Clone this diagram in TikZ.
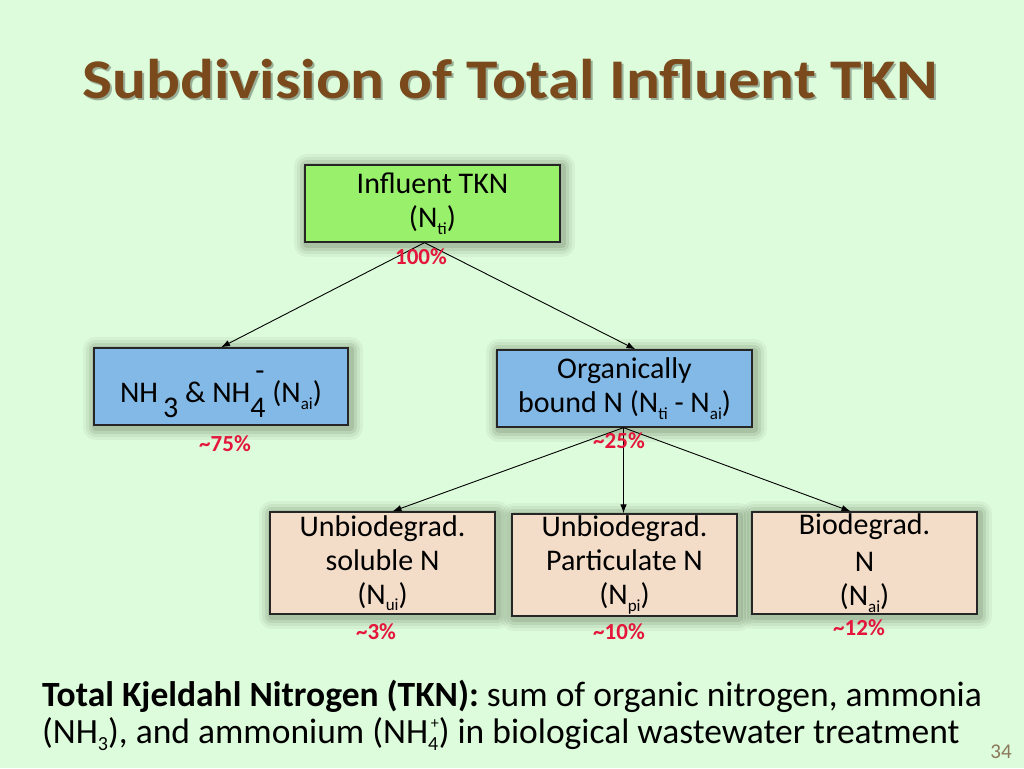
\documentclass[tikz,border=0pt]{standalone}
\usepackage{fontspec}
\setmainfont{Carlito}
\usetikzlibrary{arrows.meta,calc}
\definecolor{bgc}{RGB}{221,252,219}
\definecolor{titlec}{RGB}{122,74,28}
\definecolor{greenbox}{RGB}{153,240,106}
\definecolor{bluebox}{RGB}{131,185,230}
\definecolor{peachbox}{RGB}{243,220,200}
\definecolor{pctred}{RGB}{228,22,60}
\definecolor{pagec}{RGB}{140,120,90}
\definecolor{glowc}{RGB}{50,60,40}
\newcommand\lowsub[1]{\raisebox{-0.22em}{\fontsize{17}{17}\selectfont #1}}
\begin{document}
\begin{tikzpicture}[x=1pt,y=-1pt,
  glowlayer/.style={draw=glowc, draw opacity=#1, line join=round, transform canvas={xshift=2pt,yshift=-2pt}},
  boxstyle/.style={draw=black!85, line width=1.3pt, inner sep=0pt, align=center,
    font=\fontsize{30}{34}\selectfont,
    preaction={glowlayer=0.05, line width=26pt},
    preaction={glowlayer=0.07, line width=20pt},
    preaction={glowlayer=0.09, line width=14pt},
    preaction={glowlayer=0.12, line width=8pt}},
  pct/.style={text=pctred, font=\bfseries\fontsize{23}{23}\selectfont, inner sep=0pt},
  conn/.style={line width=0.9pt, -{Latex[length=9pt,width=6.5pt]}}]
\fill[bgc] (0,0) rectangle (1024,768);
\useasboundingbox (0,0) rectangle (1024,768);
% title
\node[text=black, opacity=0.3, font=\bfseries\fontsize{56}{60}\selectfont] (titleshadow) at (512,81) {\scalebox{1.13}[1]{Subdivision of Total Influent TKN}};
\node[text=titlec, font=\bfseries\fontsize{56}{60}\selectfont] (title) at (510,79) {\scalebox{1.13}[1]{Subdivision of Total Influent TKN}};
% boxes
\node[boxstyle, fill=greenbox, minimum width=255pt, minimum height=77pt] (b1) at (432.5,203.5) {Influent TKN\\(N\lowsub{ti})};
\node[boxstyle, fill=bluebox, minimum width=254pt, minimum height=77pt] (b2) at (221,386.5)
  {\smash{\raisebox{-16pt}{NH\,\raisebox{-15pt}{3}\ \&\ NH\rlap{\,\raisebox{22pt}{-}}\raisebox{-15pt}{4}\ (N\lowsub{ai})}}};
\node[boxstyle, fill=bluebox, minimum width=255pt, minimum height=77pt] (b3) at (624.5,388.5) {Organically\\bound N (N\lowsub{ti} - N\lowsub{ai})};
\node[boxstyle, fill=peachbox, minimum width=225pt, minimum height=102pt] (b4) at (382.5,563) {Unbiodegrad.\\soluble N\\(N\lowsub{ui})};
\node[boxstyle, fill=peachbox, minimum width=225pt, minimum height=102pt] (b5) at (624.5,565) {Unbiodegrad.\\Particulate N\\(N\lowsub{pi})};
\node[boxstyle, fill=peachbox, minimum width=225pt, minimum height=102pt] (b6) at (864.5,563) {\raisebox{3pt}{Biodegrad.}\\N\\(N\lowsub{ai})};
% connectors
\coordinate (o1) at ($(b1.south)+(-8,0)$);
\coordinate (o3) at ($(b3.south)+(-1,0)$);
\draw[conn] (o1) -- (b2.north);
\draw[conn] (o1) -- ($(b3.north)+(11,0)$);
\draw[conn] (o3) -- ($(b4.north)+(10,0)$);
\draw[conn] (o3) -- (o3 |- b5.north);
\draw[conn] (o3) -- ($(b6.north)+(-14,0)$);
% percentages
\node[pct] (p1) at (421,257) {100\%};
\node[pct] (p2) at (225,444) {\textasciitilde75\%};
\node[pct] (p3) at (619,441) {\textasciitilde25\%};
\node[pct] (p4) at (376,632) {\textasciitilde3\%};
\node[pct] (p5) at (619,632) {\textasciitilde10\%};
\node[pct] (p6) at (859,628) {\textasciitilde12\%};
% bottom text
\node[anchor=base west, inner sep=0pt, font=\fontsize{35.5}{36}\selectfont] (l1) at (42,706)
  {\textbf{Total Kjeldahl Nitrogen (TKN):} sum of organic nitrogen, ammonia};
\node[anchor=base west, inner sep=0pt, font=\fontsize{35.5}{36}\selectfont] (l2) at (42,743)
  {(NH\raisebox{-0.2em}{\fontsize{20}{20}\selectfont 3}), and ammonium (NH\rlap{\raisebox{-0.2em}{\fontsize{20}{20}\selectfont 4}}\raisebox{0.42em}{\fontsize{16}{16}\selectfont \,+}) in biological wastewater treatment};
\node[text=pagec, font=\fontsize{21}{21}\selectfont] (pg) at (1001,752) {34};
\end{tikzpicture}
\end{document}
